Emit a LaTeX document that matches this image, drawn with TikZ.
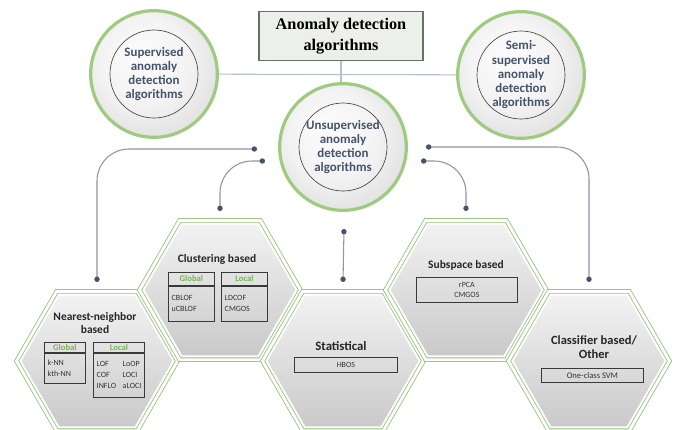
\documentclass[tikz,border=0pt]{standalone}
\usepackage{fontspec}
\setmainfont{Carlito}
\newfontfamily\titlefont{Liberation Serif}
\usetikzlibrary{shapes.geometric,arrows.meta,positioning,calc}

\definecolor{ringgreen}{RGB}{160,202,128}
\definecolor{hexgreen}{RGB}{145,192,115}
\definecolor{slate}{RGB}{68,84,106}
\definecolor{connline}{RGB}{140,148,166}
\definecolor{linkline}{RGB}{180,192,210}
\definecolor{hdrgreen}{RGB}{120,180,85}
\definecolor{titleframe}{RGB}{100,115,100}

\pgfdeclareradialshading{silver}{\pgfpoint{-6bp}{8bp}}{color(0bp)=(gray!2); color(18bp)=(gray!10); color(40bp)=(gray!35); color(50bp)=(gray!55)}

\tikzstyle{titlebox} = [rectangle, draw=titleframe, line width=0.8pt, fill={rgb,255:red,236;green,239;blue,234}, align=center, minimum width=123pt, minimum height=36.75pt, font=\titlefont\bfseries\fontsize{12.2}{16}\selectfont]
\tikzstyle{ring} = [circle, draw=ringgreen, line width=2.4pt, minimum size=95pt, inner sep=0pt, shading=silver, align=center, text=slate, font=\bfseries\fontsize{9.7}{10.7}\selectfont, path picture={\draw[gray!55!black, line width=0.5pt] (path picture bounding box.center) circle (33pt);}]
\tikzstyle{hexframe} = [regular polygon, regular polygon sides=6, minimum size=120.75pt, inner sep=0pt, outer sep=0pt, draw=hexgreen, line width=0.6pt, double=white, double distance=2.2pt]
\tikzstyle{hexbody} = [regular polygon, regular polygon sides=6, minimum size=114pt, inner sep=0pt, draw=white, line width=0.6pt, top color=gray!10, bottom color=gray!42]
\tikzstyle{hextitle} = [align=center, text=black!85, font=\bfseries\fontsize{8.6}{10.2}\selectfont]
\tikzstyle{hdrbox} = [rectangle, draw=gray!45!black, line width=0.6pt, text=hdrgreen, font=\bfseries\fontsize{6.5}{7}\selectfont, inner sep=0pt, anchor=north west]
\tikzstyle{cellbox} = [rectangle, draw=gray!45!black, line width=0.6pt, text=black!80, font=\fontsize{6}{8.5}\selectfont, inner sep=0pt, inner xsep=2.5pt, anchor=north west]
\tikzstyle{conn} = [draw=connline, line width=0.8pt, rounded corners=24pt, {Circle[length=4pt,color=slate]}-{Circle[length=4pt,color=slate]}]

\begin{document}
\begin{tikzpicture}[x=0.75pt, y=-0.75pt, node distance=0pt]
    \clip (0,0) rectangle (681,429);

    % hexagons
    \node[hexframe] (nnframe) at (97,361) {};
    \node[hexbody] (nnbody) at (nnframe) {};
    \node[hexframe] (clusframe) at (220,290) {};
    \node[hexbody] (clusbody) at (clusframe) {};
    \node[hexframe] (statframe) at (343,361) {};
    \node[hexbody] (statbody) at (statframe) {};
    \node[hexframe] (subframe) at (466,290) {};
    \node[hexbody] (subbody) at (subframe) {};
    \node[hexframe] (clsfframe) at (589,361) {};
    \node[hexbody] (clsfbody) at (clsfframe) {};

    % title and the three families
    \node[titlebox] (title) at (341,36) {Anomaly detection\\algorithms};
    \node[ring] (sup) at (154,74) {Supervised\\anomaly\\detection\\algorithms};
    \node[ring] (semi) at (521,75) {Semi-\\supervised\\anomaly\\detection\\algorithms};
    \node[ring] (unsup) at (343,147) {Unsupervised\\anomaly\\detection\\algorithms};

    \draw[linkline, line width=0.8pt] (sup) -- (semi);
    \draw[linkline, line width=0.8pt] (title.south) -- (title.south |- unsup.north);

    % connector ends
    \coordinate (lo) at (257,149);
    \coordinate (li) at (265,161);
    \coordinate (mid) at (344,229);
    \coordinate (ri) at (421,161);
    \coordinate (ro) at (426,147);
    \coordinate (nntop) at ([yshift=7pt]nnframe.north);
    \coordinate (clustop) at ([yshift=7pt]clusframe.north);
    \coordinate (stattop) at ([yshift=7pt]statframe.north);
    \coordinate (subtop) at ([yshift=7pt]subframe.north);
    \coordinate (clsftop) at ([yshift=7pt]clsfframe.north);

    \draw[conn] (lo) -| (nntop);
    \draw[conn] (li) -| (clustop);
    \draw[conn] (mid) -- (stattop);
    \draw[conn] (ri) -| (subtop);
    \draw[conn] (ro) -| (clsftop);

    % nearest-neighbor
    \node[hextitle] (nntitle) at (95,323) {Nearest-neighbor\\based};
    \node[hdrbox, minimum width=30.75pt, minimum height=7.5pt] (nnglobalhdr) at (44,342) {Global};
    \node[cellbox, minimum width=30.75pt, minimum height=22.5pt, below=of nnglobalhdr.south west, anchor=north west, text width=25.75pt, align=left] (nnglobal) {k-NN\\kth-NN};
    \node[hdrbox, minimum width=38.25pt, minimum height=7.5pt] (nnlocalhdr) at (93,342) {Local};
    \node[cellbox, minimum width=38.25pt, minimum height=33pt, below=of nnlocalhdr.south west, anchor=north west] (nnlocal) {\begin{tabular}{@{}l@{\hspace{5pt}}l@{}}LOF & LoOP\\COF & LOCI\\INFLO & aLOCI\end{tabular}};

    % clustering
    \node[hextitle] (clustitle) at (217,259) {Clustering based};
    \node[hdrbox, minimum width=34.5pt, minimum height=9.75pt] (clusglobalhdr) at (168,272) {Global};
    \node[cellbox, minimum width=34.5pt, minimum height=26.25pt, below=of clusglobalhdr.south west, anchor=north west, text width=29.5pt, align=left] (clusglobal) {CBLOF\\uCBLOF};
    \node[hdrbox, minimum width=34.5pt, minimum height=9.75pt] (cluslocalhdr) at (221,272) {Local};
    \node[cellbox, minimum width=34.5pt, minimum height=26.25pt, below=of cluslocalhdr.south west, anchor=north west, text width=29.5pt, align=left] (cluslocal) {LDCOF\\CMGOS};

    % statistical
    \node[hextitle, font=\bfseries\fontsize{9.6}{11}\selectfont] (stattitle) at (341,346) {Statistical};
    \node[cellbox, minimum width=77.25pt, minimum height=11.25pt] (hbos) at (294,357) {HBOS};

    % subspace
    \node[hextitle] (subtitle) at (466,265) {Subspace based};
    \node[cellbox, minimum width=75.75pt, minimum height=18.75pt, align=center, font=\fontsize{6}{7.5}\selectfont] (subcell) at (416,277) {rPCA\\CMGOS};

    % classifier
    \node[hextitle, font=\bfseries\fontsize{9.4}{10.5}\selectfont] (clsftitle) at (594,347) {Classifier based/\\Other};
    \node[cellbox, minimum width=76.5pt, minimum height=10.5pt, font=\fontsize{6.4}{8}\selectfont] (svm) at (541,368) {One-class SVM};
\end{tikzpicture}
\end{document}
